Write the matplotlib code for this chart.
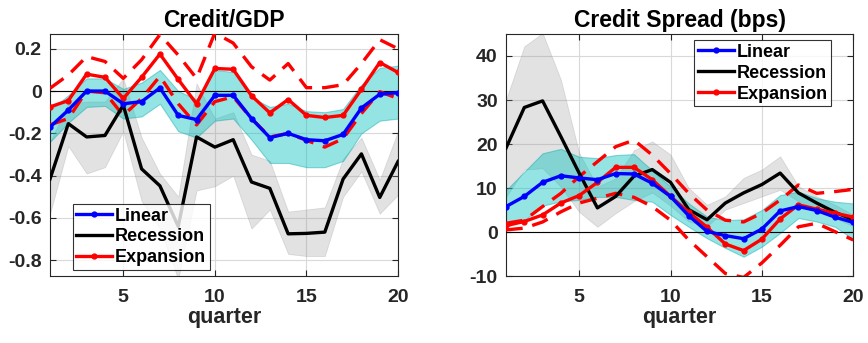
import numpy as np
import matplotlib
matplotlib.use("Agg")
import matplotlib.pyplot as plt

plt.rcParams['font.family'] = ['Liberation Sans', 'DejaVu Sans']
plt.rcParams['font.weight'] = 'bold'
plt.rcParams['axes.unicode_minus'] = False

quarter = np.arange(1, 21)

# Credit/GDP
gdp_linear = [-0.17, -0.09, 0.0, 0.0, -0.06, -0.05, 0.015, -0.115, -0.135, -0.02,
              -0.02, -0.13, -0.22, -0.2, -0.23, -0.235, -0.205, -0.08, -0.015, -0.008]
gdp_lin_hi = [-0.09, -0.02, 0.06, 0.06, 0.01, 0.04, 0.1, 0.0, -0.04, 0.1,
              0.09, -0.03, -0.075, -0.06, -0.095, -0.1, -0.085, 0.03, 0.11, 0.12]
gdp_lin_lo = [-0.24, -0.15, -0.075, -0.07, -0.13, -0.12, -0.06, -0.19, -0.22, -0.14,
              -0.13, -0.23, -0.34, -0.34, -0.36, -0.36, -0.33, -0.2, -0.14, -0.13]
gdp_rec = [-0.416, -0.154, -0.217, -0.21, -0.067, -0.368, -0.448, -0.64, -0.217, -0.265,
           -0.23, -0.43, -0.46, -0.675, -0.673, -0.667, -0.416, -0.297, -0.503, -0.333]
gdp_rec_hi = [-0.24, -0.06, -0.05, -0.05, 0.06, -0.22, -0.39, -0.5, 0.036, -0.13,
              -0.1, -0.3, -0.33, -0.57, -0.56, -0.55, -0.32, -0.22, -0.42, -0.19]
gdp_rec_lo = [-0.58, -0.26, -0.39, -0.36, -0.19, -0.52, -0.65, -0.89, -0.47, -0.45,
              -0.4, -0.65, -0.56, -0.77, -0.78, -0.78, -0.5, -0.38, -0.58, -0.49]
gdp_exp = [-0.075, -0.045, 0.08, 0.065, -0.035, 0.065, 0.175, 0.055, -0.06, 0.107,
           0.103, -0.022, -0.103, -0.04, -0.115, -0.125, -0.115, 0.008, 0.135, 0.088]
gdp_exp_hi = [0.013, 0.076, 0.163, 0.14, 0.06, 0.148, 0.267, 0.17, 0.06, 0.275,
              0.227, 0.115, 0.052, 0.13, 0.016, 0.016, 0.03, 0.13, 0.243, 0.2]
gdp_exp_lo = [-0.16, -0.13, 0.0, -0.008, -0.115, -0.035, 0.07, -0.06, -0.16, -0.05,
              -0.027, -0.13, -0.217, -0.2, -0.233, -0.265, -0.225, -0.106, -0.003, -0.035]

# Credit Spread (bps)
cs_linear = [5.8, 8.1, 11.3, 12.8, 12.3, 11.9, 13.3, 13.2, 11.1, 8.1,
             3.7, 0.15, -0.8, -1.5, 0.7, 4.8, 5.8, 4.9, 3.4, 2.2]
cs_lin_hi = [9.5, 13.7, 17.9, 18.9, 17.1, 16.8, 17.5, 17.7, 14.0, 10.3,
             6.5, 3.5, 2.7, 2.9, 5.0, 8.4, 9.2, 7.7, 6.9, 6.5]
cs_lin_lo = [1.1, 2.7, 6.0, 7.0, 7.3, 8.0, 8.0, 7.3, 6.9, 3.9,
             1.2, -1.4, -3.6, -5.6, -3.3, -0.2, 3.2, 2.4, 1.2, -1.6]
cs_rec = [19.1, 28.3, 29.8, 21.7, 13.4, 5.5, 8.1, 12.7, 14.2, 11.3,
          5.1, 2.8, 6.6, 8.9, 10.8, 13.4, 8.9, 6.6, 4.5, 2.8]
cs_rec_hi = [30.1, 42.2, 45.2, 34.6, 18.0, 10.3, 12.2, 18.6, 20.6, 17.6,
             10.0, 6.2, 8.1, 12.3, 14.2, 17.2, 10.4, 8.1, 6.2, 3.9]
cs_rec_lo = [8.0, 14.2, 14.5, 10.3, 4.6, 1.2, 4.3, 7.0, 9.0, 6.0,
             2.4, 1.3, 5.1, 6.6, 8.1, 9.6, 7.0, 5.1, 3.2, 1.3]
cs_exp = [1.5, 2.4, 3.9, 6.6, 8.3, 11.3, 14.7, 14.7, 11.9, 8.1,
          4.5, 1.1, -2.7, -4.2, -1.6, 3.0, 6.2, 5.2, 4.3, 3.4]
cs_exp_hi = [2.0, 2.7, 5.8, 8.8, 12.6, 16.0, 19.4, 20.9, 17.5, 13.3,
             8.8, 5.0, 2.7, 2.3, 4.3, 7.3, 10.7, 8.8, 9.2, 9.7]
cs_exp_lo = [0.5, 0.9, 2.3, 4.6, 6.6, 7.7, 8.8, 7.9, 5.8, 2.7,
             -1.8, -5.6, -9.4, -10.3, -7.0, -3.0, 1.2, 2.0, 0.1, -1.8]

fig = plt.figure(figsize=(8.68, 3.43), dpi=100)
ax1 = fig.add_axes([0.0576, 0.195, 0.401, 0.706])
ax2 = fig.add_axes([0.583, 0.195, 0.400, 0.706])

txt = (0.15, 0.15, 0.15)


def draw(ax, title, lin, lhi, llo, rec, rhi, rlo, exp, ehi, elo, ylim, yticks,
         legloc, anchor):
    ax.fill_between(quarter, rlo, rhi, facecolor=(0.55, 0.55, 0.55), alpha=0.25,
                    edgecolor=(0.55, 0.55, 0.55), linewidth=0.6, zorder=1)
    ax.fill_between(quarter, llo, lhi, facecolor=(0.0, 0.75, 0.75), alpha=0.42,
                    edgecolor=(0.0, 0.65, 0.65), linewidth=0.8, zorder=2)
    ax.axhline(0, color='k', linewidth=0.8, zorder=3)
    ax.plot(quarter, ehi, '--', color='red', linewidth=2.4, dashes=(5, 3), zorder=4)
    ax.plot(quarter, elo, '--', color='red', linewidth=2.4, dashes=(5, 3), zorder=4)
    l2, = ax.plot(quarter, rec, '-', color='black', linewidth=2.4, zorder=5)
    l3, = ax.plot(quarter, exp, '-', color='red', linewidth=2.4, marker='o',
                  markersize=3.5, zorder=6)
    l1, = ax.plot(quarter, lin, '-', color='blue', linewidth=2.4, marker='o',
                  markersize=3.5, zorder=7)
    ax.set_xlim(1, 20)
    ax.set_ylim(*ylim)
    ax.set_xticks([5, 10, 15, 20])
    ax.set_yticks(yticks)
    ax.grid(True, color=(0.85, 0.85, 0.85), linewidth=0.8)
    ax.set_axisbelow(True)
    ax.tick_params(axis='both', direction='in', labelsize=14, colors=txt, length=4,
                   top=True, right=True)
    ax.tick_params(axis='x', pad=9)
    ax.tick_params(axis='y', pad=6)
    for sp in ax.spines.values():
        sp.set_color(txt)
        sp.set_linewidth(0.8)
    ax.set_title(title, fontsize=16.5, fontweight='bold', pad=5)
    ax.set_xlabel('quarter', fontsize=15.5, fontweight='bold', color=txt, labelpad=1)
    leg = ax.legend([l1, l2, l3], ['Linear', 'Recession', 'Expansion'], loc=legloc,
                    bbox_to_anchor=anchor, fontsize=13, frameon=True,
                    fancybox=False, edgecolor='k', handlelength=2.0,
                    handletextpad=0.15, borderpad=0.2, labelspacing=0.22,
                    borderaxespad=0.0)
    leg.get_frame().set_linewidth(0.8)
    leg.set_zorder(10)


draw(ax1, 'Credit/GDP', gdp_linear, gdp_lin_hi, gdp_lin_lo, gdp_rec, gdp_rec_hi,
     gdp_rec_lo, gdp_exp, gdp_exp_hi, gdp_exp_lo, (-0.875, 0.27),
     [-0.8, -0.6, -0.4, -0.2, 0, 0.2], 'lower left', (0.065, 0.025))
ax1.set_yticklabels(['-0.8', '-0.6', '-0.4', '-0.2', '0', '0.2'])
draw(ax2, 'Credit Spread (bps)', cs_linear, cs_lin_hi, cs_lin_lo, cs_rec, cs_rec_hi,
     cs_rec_lo, cs_exp, cs_exp_hi, cs_exp_lo, (-10, 45),
     [-10, 0, 10, 20, 30, 40], 'upper right', (0.937, 0.975))

fig.savefig('out.png', dpi=100)
